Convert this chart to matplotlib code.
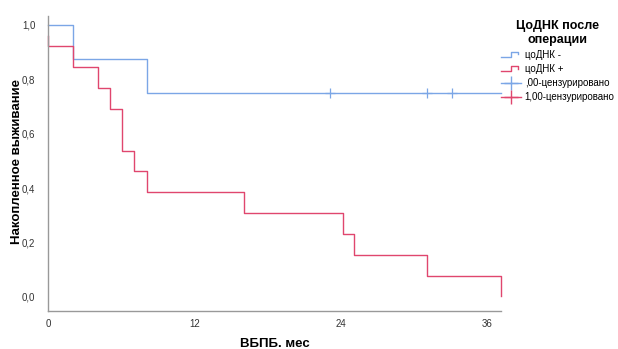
import matplotlib
matplotlib.use("Agg")
import matplotlib.pyplot as plt
from matplotlib.lines import Line2D
from matplotlib.legend_handler import HandlerBase
from matplotlib.ticker import FuncFormatter

plt.rcParams["font.family"] = ["Liberation Sans", "DejaVu Sans"]

# Kaplan-Meier data
blue_time = [0, 2.05, 8.1, 37.1]
blue_surv = [1.0, 0.875, 0.75, 0.75]
blue_cens_time = [23.1, 31.1, 33.1]
blue_cens_surv = [0.75, 0.75, 0.75]

red_start = 0.96
red_time = [0, 2.05, 4.07, 5.1, 6.1, 7.07, 8.1, 16.1, 24.15, 25.1, 31.1, 37.1]
red_surv = [0.923, 0.846, 0.769, 0.692, 0.538, 0.462, 0.385, 0.308, 0.231, 0.154, 0.077, 0.005]

x_ticks = [0, 12, 24, 36]
y_ticks = [0.0, 0.2, 0.4, 0.6, 0.8, 1.0]

labels = ["цоДНК -", "цоДНК +", ",00-цензурировано", "1,00-цензурировано"]
legend_title = "ЦоДНК после\nоперации"

blue = "#7ba6e6"
red = "#e0466e"
W, H = 618, 349


class HandlerStep(HandlerBase):
    def create_artists(self, legend, orig_handle, xdescent, ydescent,
                       width, height, fontsize, trans):
        x0 = -xdescent
        y0 = -ydescent
        xs = [x0, x0 + 0.5 * width, x0 + 0.5 * width, x0 + 0.85 * width, x0 + 0.85 * width]
        ys = [y0 + 0.15 * height, y0 + 0.15 * height, y0 + 0.85 * height,
              y0 + 0.85 * height, y0 + 0.5 * height]
        ln = Line2D(xs, ys, color=orig_handle.get_color(), lw=orig_handle.get_linewidth(),
                    transform=trans)
        return [ln]


fig = plt.figure(figsize=(W / 100, H / 100), dpi=100)
ax = fig.add_axes([48 / W, 1 - 311 / H, 453 / W, 295 / H])

ax.step(blue_time, blue_surv, where="post", color=blue, lw=1.0)
ax.step([0] + red_time, [red_start] + red_surv, where="post", color=red, lw=1.0)
ax.plot(blue_cens_time, blue_cens_surv, ls="none", marker="+", ms=7, mew=0.9, color=blue)

ax.set_xlim(0, 37.13)
ax.set_ylim(-0.0515, 1.033)
ax.set_xticks(x_ticks)
ax.set_yticks(y_ticks)
ax.yaxis.set_major_formatter(FuncFormatter(lambda v, p: ("%.1f" % v).replace(".", ",")))
ax.tick_params(length=0, labelsize=7, colors="#333333")
ax.tick_params(axis="y", pad=9)
ax.tick_params(axis="x", pad=6)
for s in ["top", "right"]:
    ax.spines[s].set_visible(False)
for s in ["left", "bottom"]:
    ax.spines[s].set_color("#999999")
    ax.spines[s].set_linewidth(1.0)
for ln in ax.get_lines():
    ln.set_clip_on(False)

# axis titles placed in figure pixels
fig.text(274.5 / W, 1 - 344 / H, "ВБПБ. мес", fontsize=9.5, fontweight="bold",
         ha="center", va="center")
fig.text(17 / W, 1 - 162 / H, "Накопленное выживание", fontsize=9.5, fontweight="bold",
         ha="center", va="center", rotation=90)

h1 = Line2D([], [], color=blue, lw=1.0)
h2 = Line2D([], [], color=red, lw=1.0)
h3 = Line2D([], [], color=blue, lw=1.0, marker="+", ms=10, mew=1.0)
h4 = Line2D([], [], color=red, lw=1.0, marker="+", ms=10, mew=1.0)
leg = fig.legend([h1, h2, h3, h4], labels, title=legend_title,
                 loc="upper left", bbox_to_anchor=(499 / W, 1 - 18 / H),
                 frameon=False, fontsize=7, handlelength=2.1, handletextpad=0.35,
                 labelspacing=0.42, borderpad=0.2, borderaxespad=0.0,
                 handler_map={h1: HandlerStep(), h2: HandlerStep()})
leg.get_title().set_fontsize(9)
leg.get_title().set_fontweight("bold")
leg.get_title().set_multialignment("center")

fig.savefig("out.png", dpi=100)
